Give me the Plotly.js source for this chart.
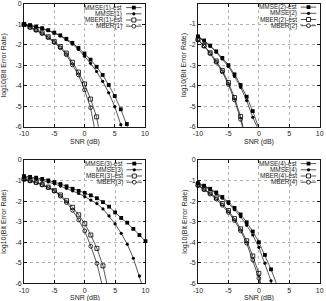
<!DOCTYPE html>
<html>
<head>
<meta charset="utf-8">
<script src="https://cdn.plot.ly/plotly-3.0.1.min.js"></script>
<style>
  html, body { margin: 0; padding: 0; background: #fff; }
  #chart { width: 326px; height: 301px; }
</style>
</head>
<body>
<div id="chart"></div>
<script>
// ---- data: log10 BER versus SNR (dB) for four scenarios ----
const xTickVals = [-10, -5, 0, 5, 10];
const xTickText = ['-10', '-5', '0', '5', '10'];
const yTickVals = [0, -1, -2, -3, -4, -5, -6];
const yTickText = ['0', '-1', '-2', '-3', '-4', '-5', '-6'];

const seriesNames = [
  ['MMSE(1)-est', 'MMSE(1)', 'MBER(1)-est', 'MBER(1)'],
  ['MMSE(2)-est', 'MMSE(2)', 'MBER(2)-est', 'MBER(2)'],
  ['MMSE(3)-est', 'MMSE(3)', 'MBER(3)-est', 'MBER(3)'],
  ['MMSE(4)-est', 'MMSE(4)', 'MBER(4)-est', 'MBER(4)']
];

// scenario 1
const snr1MmseEst = [-10,-9,-8,-7,-6,-5,-4,-3,-2,-1,0,1,2,3,4,5,6,7,8];
const ber1MmseEst = [-0.98,-1.03,-1.1,-1.18,-1.28,-1.4,-1.53,-1.7,-1.9,-2.15,-2.42,-2.72,-3.07,-3.47,-3.96,-4.5,-5.15,-5.87,-6.7];
const snr1Mmse    = [-10,-9,-8,-7,-6,-5,-4,-3,-2,-1,0,1,2,3,4,5,6,7];
const ber1Mmse    = [-1.0,-1.05,-1.12,-1.2,-1.3,-1.42,-1.56,-1.74,-1.96,-2.22,-2.55,-2.9,-3.3,-3.78,-4.34,-5.02,-5.9,-6.9];
const snr1MberEst = [-10,-9,-8,-7,-6,-5,-4,-3,-2,-1,0,1,2,3];
const ber1MberEst = [-1.0,-1.12,-1.25,-1.4,-1.6,-1.83,-2.08,-2.4,-2.85,-3.33,-3.91,-4.65,-5.52,-7.1];
const snr1Mber    = [-10,-9,-8,-7,-6,-5,-4,-3,-2,-1,0,1,2];
const ber1Mber    = [-1.02,-1.15,-1.29,-1.45,-1.65,-1.88,-2.14,-2.48,-2.98,-3.47,-4.2,-5.07,-6.6];

// scenario 2
const snr2MmseEst = [-10,-9,-8,-7,-6,-5,-4,-3,-2,-1,0,1];
const ber2MmseEst = [-1.6,-1.8,-2.05,-2.33,-2.65,-3.0,-3.45,-3.97,-4.54,-5.24,-6.02,-6.9];
const snr2Mmse    = [-10,-9,-8,-7,-6,-5,-4,-3,-2,-1,0];
const ber2Mmse    = [-1.62,-1.83,-2.08,-2.37,-2.7,-3.07,-3.55,-4.08,-4.73,-5.54,-6.2];
const snr2MberEst = [-10,-9,-8,-7,-6,-5,-4,-3,-2];
const ber2MberEst = [-1.75,-2.05,-2.4,-2.8,-3.26,-3.85,-4.58,-5.5,-6.75];
const snr2Mber    = [-10,-9,-8,-7,-6,-5,-4,-3,-2];
const ber2Mber    = [-1.78,-2.08,-2.44,-2.86,-3.33,-3.95,-4.7,-5.64,-6.85];

// scenario 3
const snr3MmseEst = [-10,-9,-8,-7,-6,-5,-4,-3,-2,-1,0,1,2,3,4,5,6,7,8,9,10];
const ber3MmseEst = [-0.78,-0.82,-0.86,-0.92,-0.99,-1.07,-1.17,-1.28,-1.4,-1.5,-1.6,-1.72,-1.86,-2.05,-2.27,-2.55,-2.82,-3.05,-3.35,-3.65,-3.95];
const snr3Mmse    = [-10,-9,-8,-7,-6,-5,-4,-3,-2,-1,0,1,2,3,4,5,6,7,8,9,10];
const ber3Mmse    = [-0.85,-0.88,-0.93,-0.99,-1.07,-1.16,-1.27,-1.38,-1.5,-1.63,-1.78,-1.95,-2.12,-2.38,-2.72,-3.11,-3.57,-4.1,-4.78,-5.64,-6.6];
const snr3MberEst = [-10,-9,-8,-7,-6,-5,-4,-3,-2,-1,0,1,2,3,4];
const ber3MberEst = [-0.92,-0.99,-1.08,-1.19,-1.32,-1.48,-1.7,-1.98,-2.3,-2.67,-3.1,-3.65,-4.3,-5.15,-6.5];
const snr3Mber    = [-10,-9,-8,-7,-6,-5,-4,-3,-2,-1,0,1,2,3];
const ber3Mber    = [-0.95,-1.02,-1.11,-1.22,-1.35,-1.52,-1.76,-2.07,-2.45,-2.92,-3.45,-4.2,-5.03,-6.25];

// scenario 4
const snr4MmseEst = [-10,-9,-8,-7,-6,-5,-4,-3,-2,-1,0,1,2,3];
const ber4MmseEst = [-1.12,-1.25,-1.4,-1.58,-1.8,-2.05,-2.33,-2.65,-3.03,-3.48,-4.0,-4.62,-5.32,-6.1];
const snr4Mmse    = [-10,-9,-8,-7,-6,-5,-4,-3,-2,-1,0,1,2,3];
const ber4Mmse    = [-1.15,-1.28,-1.44,-1.63,-1.86,-2.12,-2.42,-2.76,-3.17,-3.65,-4.25,-5.02,-5.88,-6.9];
const snr4MberEst = [-10,-9,-8,-7,-6,-5,-4,-3,-2,-1,0,1];
const ber4MberEst = [-1.2,-1.4,-1.6,-1.84,-2.12,-2.46,-2.85,-3.35,-3.93,-4.67,-5.52,-7.2];
const snr4Mber    = [-10,-9,-8,-7,-6,-5,-4,-3,-2,-1,0,1];
const ber4Mber    = [-1.25,-1.45,-1.66,-1.9,-2.2,-2.55,-2.95,-3.45,-4.05,-4.86,-5.75,-7.4];

// ---- drawing ----
const W = 326, H = 301;
const FONT = 'Liberation Sans, Arial, Helvetica, sans-serif';
const fx = v => v / W;          // pixel -> paper x
const fy = v => 1 - v / H;      // pixel -> paper y

// plot boxes in pixels
const boxes = [
  { l: 24,  r: 145,   t: 4,   b: 126.7 },
  { l: 198, r: 319.7, t: 3.5, b: 126.7 },
  { l: 24,  r: 145.5, t: 160, b: 283.3 },
  { l: 198, r: 319.7, t: 160, b: 283.3 }
];
const yTitleOffset = [20, 14, 20, 13];

// marker style per series: MMSE-est, MMSE, MBER-est, MBER
const styles = [
  { symbol: 'square',      size: 3.8, open: false },
  { symbol: 'circle',      size: 3.2, open: false },
  { symbol: 'square-open', size: 4.0, open: true  },
  { symbol: 'circle-open', size: 3.8, open: true  }
];

const panelData = [
  [[snr1MmseEst, ber1MmseEst], [snr1Mmse, ber1Mmse], [snr1MberEst, ber1MberEst], [snr1Mber, ber1Mber]],
  [[snr2MmseEst, ber2MmseEst], [snr2Mmse, ber2Mmse], [snr2MberEst, ber2MberEst], [snr2Mber, ber2Mber]],
  [[snr3MmseEst, ber3MmseEst], [snr3Mmse, ber3Mmse], [snr3MberEst, ber3MberEst], [snr3Mber, ber3Mber]],
  [[snr4MmseEst, ber4MmseEst], [snr4Mmse, ber4Mmse], [snr4MberEst, ber4MberEst], [snr4Mber, ber4Mber]]
];

const traces = [];
const layout = {
  width: W, height: H,
  margin: { l: 0, r: 0, t: 0, b: 0 },
  paper_bgcolor: '#fff', plot_bgcolor: '#fff',
  showlegend: false,
  font: { family: FONT, size: 7, color: '#000' },
  annotations: [], shapes: []
};

boxes.forEach((bx, p) => {
  const k = p + 1;
  const xa = 'xaxis' + (k === 1 ? '' : k), ya = 'yaxis' + (k === 1 ? '' : k);
  const xr = 'x' + (k === 1 ? '' : k), yr = 'y' + (k === 1 ? '' : k);

  const common = {
    showline: true, mirror: 'ticks', linecolor: '#000', linewidth: 0.9,
    ticks: 'inside', ticklen: 3, tickwidth: 0.9, tickcolor: '#000',
    showgrid: true, gridcolor: '#b0b0b0', griddash: 'dot', gridwidth: 1,
    zeroline: false, fixedrange: true,
    tickfont: { family: FONT, size: 7, color: '#222' }
  };
  layout[xa] = Object.assign({}, common, {
    domain: [fx(bx.l), fx(bx.r)], anchor: yr, range: [-10, 10],
    tickmode: 'array', tickvals: xTickVals, ticktext: xTickText
  });
  layout[ya] = Object.assign({}, common, {
    domain: [fy(bx.b), fy(bx.t)], anchor: xr, range: [-6, 0],
    tickmode: 'array', tickvals: yTickVals, ticktext: yTickText
  });

  panelData[p].forEach((s, i) => {
    const st = styles[i];
    traces.push({
      type: 'scatter', mode: 'lines+markers',
      x: s[0], y: s[1], xaxis: xr, yaxis: yr,
      name: seriesNames[p][i], cliponaxis: false,
      line: { color: '#111', width: 0.7 },
      marker: { symbol: st.symbol, size: st.size, color: '#000',
                line: { color: '#000', width: st.open ? 0.8 : 0 } }
    });
  });

  // axis titles
  layout.annotations.push({
    xref: 'paper', yref: 'paper', x: fx((bx.l + bx.r) / 2), y: fy(bx.b + 15),
    text: 'SNR (dB)', showarrow: false, xanchor: 'center', yanchor: 'middle',
    font: { family: FONT, size: 7, color: '#222' }
  });
  layout.annotations.push({
    xref: 'paper', yref: 'paper', x: fx(bx.l - yTitleOffset[p]), y: fy((bx.t + bx.b) / 2),
    text: 'log10(Bit Error Rate)', showarrow: false, textangle: -90,
    xanchor: 'center', yanchor: 'middle',
    font: { family: FONT, size: 7, color: '#222' }
  });

  // key: right-aligned labels followed by a line sample with its marker
  seriesNames[p].forEach((nm, i) => {
    const yy = bx.t + 3.6 + 6.2 * i;
    const st = styles[i];
    layout.annotations.push({
      xref: 'paper', yref: 'paper', x: fx(bx.r - 21.5), y: fy(yy),
      text: nm, showarrow: false, xanchor: 'right', yanchor: 'middle',
      borderpad: 0, font: { family: FONT, size: 6.4, color: '#222' }
    });
    layout.shapes.push({
      type: 'line', xref: 'paper', yref: 'paper',
      x0: fx(bx.r - 19), x1: fx(bx.r - 3.5), y0: fy(yy), y1: fy(yy),
      line: { color: '#111', width: 0.7 }
    });
    const cx = bx.r - 11.2, half = st.size / 2;
    layout.shapes.push({
      type: st.symbol.startsWith('square') ? 'rect' : 'circle',
      xref: 'paper', yref: 'paper',
      x0: fx(cx - half), x1: fx(cx + half), y0: fy(yy + half), y1: fy(yy - half),
      fillcolor: st.open ? '#fff' : '#000',
      line: { color: '#000', width: st.open ? 0.8 : 0 }
    });
  });
});

Plotly.newPlot('chart', traces, layout, { staticPlot: true, displayModeBar: false });
</script>
</body>
</html>
